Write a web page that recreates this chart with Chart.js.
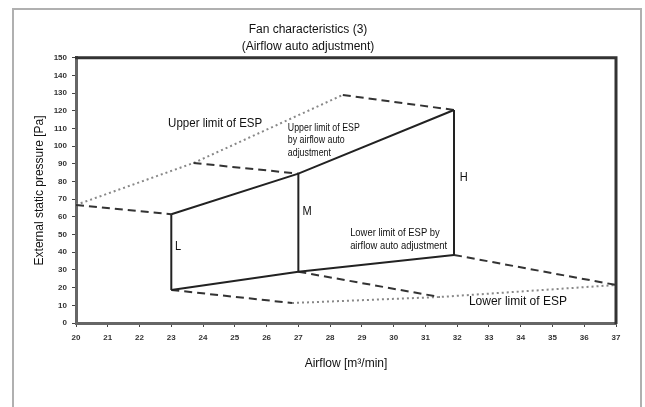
<!DOCTYPE html>
<html>
<head>
<meta charset="utf-8">
<title>Fan characteristics (3)</title>
<script src="https://cdn.jsdelivr.net/npm/chart.js@4.4.1/dist/chart.umd.min.js"></script>
<style>
  html, body { margin: 0; padding: 0; background: #fff; }
  #wrap { width: 645px; height: 407px; }
</style>
</head>
<body>
<div id="wrap"><canvas id="chart" width="645" height="407"></canvas></div>
<script>
// fan taps and the ESP range reached by airflow auto adjustment
const fanSpeeds = ["L", "M", "H"];
const fanAirflow = [23, 27, 31.9];
const espUpperAuto = [61.5, 84.5, 120.5];
const espLowerAuto = [18.7, 29, 38.5];

// absolute limits of ESP (dotted curves)
const upperLimitAirflow = [20, 23.7, 28.4];
const upperLimitEsp = [66.8, 90.5, 129];
const lowerLimitAirflow = [26.8, 31.45, 37];
const lowerLimitEsp = [11.3, 14.7, 21.5];

const airflowTicks = [20, 37];
const espTicks = [0, 150];

const font = "'Liberation Sans', Arial, sans-serif";

const pts = (xs, ys) => xs.map((x, i) => ({ x: x, y: ys[i] }));

const solid = { borderColor: "#222", borderWidth: 2 };
const dashed = { borderColor: "#333", borderWidth: 2, borderDash: [8, 5] };
const dotted = { borderColor: "#888", borderWidth: 2, borderDash: [2, 3] };

const datasets = [];
datasets.push({ label: "Upper auto", data: pts(fanAirflow, espUpperAuto), ...solid });
datasets.push({ label: "Lower auto", data: pts(fanAirflow, espLowerAuto), ...solid });
fanSpeeds.forEach((s, i) => {
    datasets.push({
        label: s,
        data: [{ x: fanAirflow[i], y: espLowerAuto[i] }, { x: fanAirflow[i], y: espUpperAuto[i] }],
        ...solid
    });
    datasets.push({
        label: s + " top",
        data: [{ x: upperLimitAirflow[i], y: upperLimitEsp[i] }, { x: fanAirflow[i], y: espUpperAuto[i] }],
        ...dashed
    });
    datasets.push({
        label: s + " bottom",
        data: [{ x: fanAirflow[i], y: espLowerAuto[i] }, { x: lowerLimitAirflow[i], y: lowerLimitEsp[i] }],
        ...dashed
    });
});
datasets.push({ label: "Upper limit of ESP", data: pts(upperLimitAirflow, upperLimitEsp), ...dotted });
datasets.push({ label: "Lower limit of ESP", data: pts(lowerLimitAirflow, lowerLimitEsp), ...dotted });

// text placed on the chart, in data units (sx squeezes the text like a narrow face)
const notes = [
    { lines: ["L"], x: 23.12, y: 43.5, size: 13, sx: 0.85, lh: 13 },
    { lines: ["M"], x: 27.13, y: 63, size: 13, sx: 0.85, lh: 13 },
    { lines: ["H"], x: 32.08, y: 82.6, size: 13, sx: 0.85, lh: 13 },
    { lines: ["Upper limit of ESP"], x: 22.9, y: 113, size: 12, sx: 0.96, lh: 13 },
    { lines: ["Upper limit of ESP", "by airflow auto", "adjustment"], x: 26.67, y: 110.4, size: 11, sx: 0.8, lh: 12.5 },
    { lines: ["Lower limit of ESP by", "airflow auto adjustment"], x: 28.63, y: 51, size: 11.5, sx: 0.82, lh: 13 },
    { lines: ["Lower limit of ESP"], x: 32.37, y: 12, size: 12, sx: 1, lh: 13 }
];

const framePlugin = {
    id: "frame",
    beforeDraw(chart) {
        const ctx = chart.ctx;
        ctx.save();
        ctx.fillStyle = "#fff";
        ctx.fillRect(0, 0, chart.width, chart.height);
        ctx.strokeStyle = "#b0b0b0";
        ctx.lineWidth = 2;
        ctx.strokeRect(13, 9, 628, 420);
        ctx.restore();
    },
    afterDraw(chart) {
        const ctx = chart.ctx;
        const a = chart.chartArea;
        const xs = chart.scales.x, ys = chart.scales.y;
        ctx.save();
        ctx.strokeStyle = "#333";
        ctx.lineWidth = 3;
        ctx.beginPath();
        ctx.moveTo(a.left - 1, a.top);
        ctx.lineTo(a.right, a.top);
        ctx.lineTo(a.right, a.bottom + 1);
        ctx.stroke();

        ctx.fillStyle = "#111";
        ctx.textAlign = "left";
        ctx.textBaseline = "middle";
        notes.forEach(n => {
            ctx.save();
            ctx.font = n.size + "px " + font;
            ctx.translate(xs.getPixelForValue(n.x), ys.getPixelForValue(n.y));
            ctx.scale(n.sx, 1);
            n.lines.forEach((t, i) => ctx.fillText(t, 0, i * n.lh));
            ctx.restore();
        });
        ctx.restore();
    }
};

new Chart(document.getElementById("chart").getContext("2d"), {
    type: "scatter",
    data: { datasets: datasets },
    plugins: [framePlugin],
    options: {
        responsive: false,
        animation: false,
        showLine: true,
        elements: { point: { radius: 0, hoverRadius: 0 }, line: { tension: 0 } },
        layout: { padding: { left: 0, right: 29, top: 0, bottom: 0 } },
        plugins: {
            legend: { display: false },
            tooltip: { enabled: false },
            title: {
                display: true,
                text: ["Fan characteristics (3)", "(Airflow auto adjustment)"],
                color: "#111",
                font: { family: font, size: 12, weight: "normal", lineHeight: 1.45 },
                padding: { top: 21, bottom: 2 }
            }
        },
        scales: {
            x: {
                type: "linear",
                min: airflowTicks[0],
                max: airflowTicks[1],
                afterFit: s => { s.height = 84; },
                ticks: { stepSize: 1, padding: 6, color: "#333", font: { family: font, size: 8, weight: "bold" } },
                grid: { drawOnChartArea: false, drawTicks: true, tickLength: 4, color: "#444" },
                border: { display: true, width: 3, color: "#666" },
                title: {
                    display: true,
                    text: "Airflow [m³/min]",
                    color: "#111",
                    font: { family: font, size: 12, lineHeight: 1.45 },
                    padding: { top: 0, bottom: 35 }
                }
            },
            y: {
                type: "linear",
                min: espTicks[0],
                max: espTicks[1],
                afterFit: s => { s.width = 76; },
                ticks: { stepSize: 10, padding: 5, color: "#333", font: { family: font, size: 8, weight: "bold" } },
                grid: { drawOnChartArea: false, drawTicks: true, tickLength: 4, color: "#444" },
                border: { display: true, width: 3, color: "#666" },
                title: {
                    display: true,
                    text: "External static pressure [Pa]",
                    color: "#111",
                    font: { family: font, size: 12, lineHeight: 1.45 },
                    padding: { top: 31, bottom: 0 }
                }
            }
        }
    }
});
</script>
</body>
</html>
